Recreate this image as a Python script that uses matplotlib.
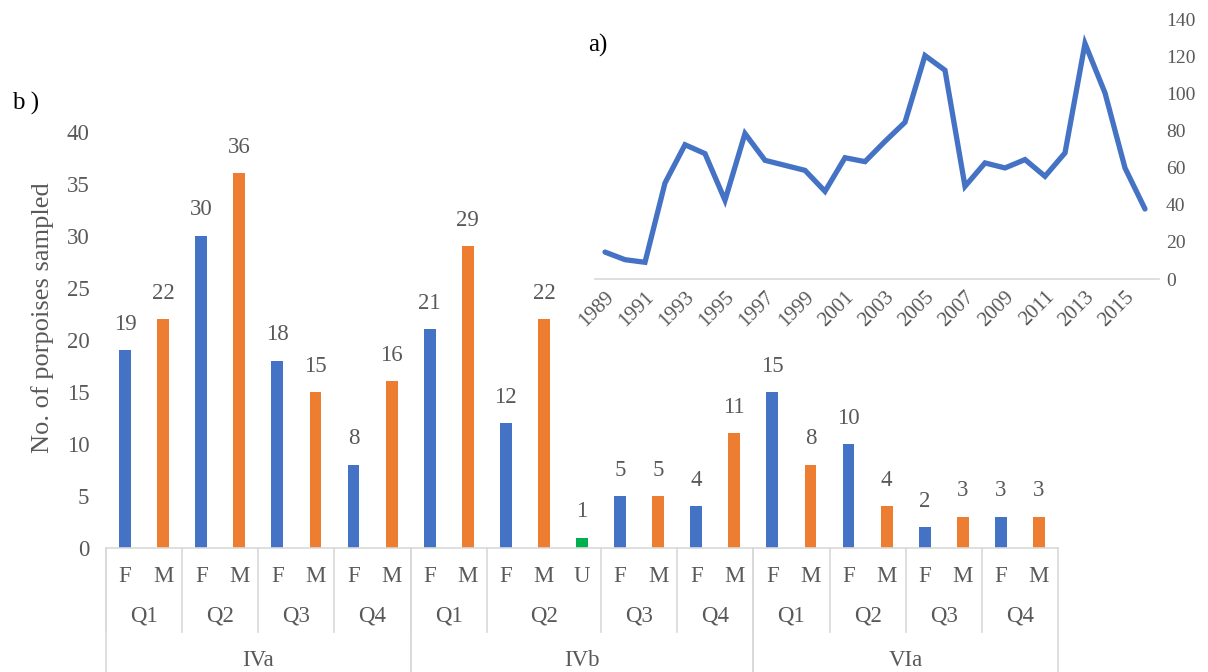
import matplotlib
matplotlib.use("Agg")
import matplotlib.pyplot as plt
from matplotlib.lines import Line2D

# ---- data ----
regions = ["IVa", "IVb", "VIa"]
quarters = ["Q1", "Q2", "Q3", "Q4"]
# sexes sampled per region/quarter, and counts in the same order
sexes = {
    "IVa": [["F", "M"], ["F", "M"], ["F", "M"], ["F", "M"]],
    "IVb": [["F", "M"], ["F", "M", "U"], ["F", "M"], ["F", "M"]],
    "VIa": [["F", "M"], ["F", "M"], ["F", "M"], ["F", "M"]],
}
counts_IVa = [[19, 22], [30, 36], [18, 15], [8, 16]]
counts_IVb = [[21, 29], [12, 22, 1], [5, 5], [4, 11]]
counts_VIa = [[15, 8], [10, 4], [2, 3], [3, 3]]
counts = {"IVa": counts_IVa, "IVb": counts_IVb, "VIa": counts_VIa}

years = list(range(1989, 2017))
annual_totals = [14.5, 10.4, 9, 51.7, 72.3, 67.5, 42.4, 78.3, 63.9, 61.2,
                 58.5, 47.2, 65.3, 63.2, 74.1, 84.4, 120.3, 112.4, 49.9, 62.5,
                 59.8, 64.3, 55.3, 67.9, 126.8, 100.2, 59.8, 37.7]

sex_colors = {"F": "#4472C4", "M": "#ED7D31", "U": "#00B050"}
text_gray = "#595959"
line_gray = "#D9D9D9"
serif = ["Liberation Serif", "DejaVu Serif"]

plt.rcParams["font.family"] = serif

W, H = 1208, 672
fig = plt.figure(figsize=(W / 100, H / 100), dpi=100)

# ---- panel b: bars ----
ax_l, ax_r, ax_b, ax_t = 106, 1058, 548, 131.5
ax = fig.add_axes([ax_l / W, 1 - ax_b / H, (ax_r - ax_l) / W, (ax_b - ax_t) / H])

xs, heights, colors, labels = [], [], [], []
quarter_bounds, region_bounds = [], []
slot = 0
for reg in regions:
    reg_start = slot
    for qi, q in enumerate(quarters):
        q_start = slot
        for sx, val in zip(sexes[reg][qi], counts[reg][qi]):
            xs.append(slot)
            heights.append(val)
            colors.append(sex_colors[sx])
            labels.append(sx)
            slot += 1
        quarter_bounds.append((q_start, slot, q))
    region_bounds.append((reg_start, slot, reg))
n_slots = slot

bars = ax.bar(xs, heights, width=0.31, color=colors, zorder=2)
for b, v in zip(bars, heights):
    ax.annotate(f"{v}", (b.get_x() + b.get_width() / 2, v),
                xytext=(0, 11), textcoords="offset points",
                ha="center", va="bottom", fontsize=16.5, color=text_gray)

ax.set_xlim(-0.5, n_slots - 0.5)
ax.set_ylim(0, 40)
ax.set_yticks(range(0, 41, 5))
ax.tick_params(axis="y", length=0, pad=12, labelsize=16.5, labelcolor=text_gray)
ax.set_xticks([])
for s in ("top", "right", "left"):
    ax.spines[s].set_visible(False)
ax.spines["bottom"].set_color(line_gray)
ax.spines["bottom"].set_linewidth(1.2)
ax.patch.set_alpha(0)

# multi-level category axis
tr = ax.get_xaxis_transform()
ax_h = ax_b - ax_t
y_sex = -(576 - ax_b) / ax_h
y_q = -(616 - ax_b) / ax_h
y_reg = -(660 - ax_b) / ax_h
y_qline = -(632 - ax_b) / ax_h
y_rline = -(672 - ax_b) / ax_h

for x, lab in zip(xs, labels):
    ax.text(x, y_sex, lab, transform=tr, ha="center", va="center",
            fontsize=16.5, color=text_gray)
for s0, s1, q in quarter_bounds:
    ax.text((s0 + s1 - 1) / 2, y_q, q, transform=tr, ha="center", va="center",
            fontsize=16.5, color=text_gray)
    ax.add_line(Line2D([s0 - 0.5, s0 - 0.5], [0, y_qline], transform=tr,
                       color=line_gray, lw=1.2, clip_on=False))
for s0, s1, reg in region_bounds:
    ax.text((s0 + s1 - 1) / 2, y_reg, reg, transform=tr, ha="center", va="center",
            fontsize=16.5, color=text_gray)
    for xb in (s0 - 0.5, s1 - 0.5):
        ax.add_line(Line2D([xb, xb], [0, y_rline], transform=tr,
                           color=line_gray, lw=1.2, clip_on=False))

fig.text(43 / W, 1 - 318 / H, "No. of porpoises sampled", rotation=90,
         ha="center", va="center", fontsize=19, color=text_gray)
fig.text(12 / W, 1 - 103 / H, "b )", ha="left", va="center", fontsize=18,
         color="black")

# ---- panel a: annual totals ----
in_l, in_r, in_b, in_t = 595, 1159, 279, 19
ax2 = fig.add_axes([in_l / W, 1 - in_b / H, (in_r - in_l) / W, (in_b - in_t) / H],
                   zorder=3)
ax2.patch.set_alpha(0)
ax2.plot(years, annual_totals, color="#4472C4", lw=3.8, solid_capstyle="round",
         solid_joinstyle="miter")
ax2.set_xlim(1988.5, 2016.7)
ax2.set_ylim(0, 140)
ax2.yaxis.tick_right()
ax2.set_yticks(range(0, 141, 20))
ax2.tick_params(axis="y", length=0, pad=5, labelsize=14, labelcolor=text_gray)
ax2.set_xticks(years[::2])
ax2.set_xticklabels([str(y) for y in years[::2]], rotation=45, ha="right",
                    rotation_mode="anchor")
ax2.tick_params(axis="x", length=0, pad=6, labelsize=15, labelcolor=text_gray)
for s in ("top", "right", "left"):
    ax2.spines[s].set_visible(False)
ax2.spines["bottom"].set_color(line_gray)
ax2.spines["bottom"].set_linewidth(1.2)

fig.text(588 / W, 1 - 45 / H, "a)", ha="left", va="center", fontsize=18,
         color="black")

fig.savefig("out.png", dpi=100, facecolor="white")
